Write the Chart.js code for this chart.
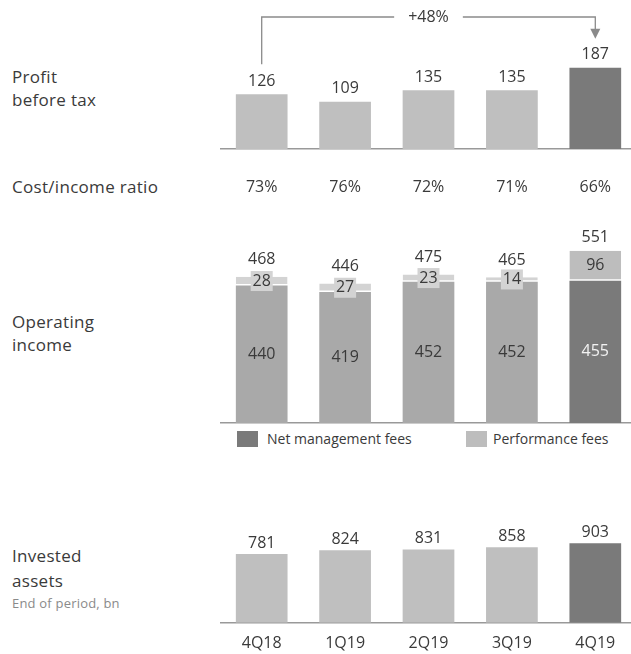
<!DOCTYPE html>
<html>
<head>
<meta charset="utf-8">
<script src="https://cdn.jsdelivr.net/npm/chart.js@4.4.0/dist/chart.umd.min.js"></script>
<style>
  body { margin: 0; width: 631px; height: 654px; overflow: hidden; background: #fff;
         font-family: 'Open Sans', sans-serif; color: #3a3a3a; position: relative; }
  canvas { position: absolute; left: 220px; }
  .side { position: absolute; left: 12px; font-size: 17px; line-height: 23px; letter-spacing: 0.3px; }
  .side small { display: block; font-size: 13px; color: #8a8a8a; line-height: 21px; letter-spacing: 0.2px; }
  .key { position: absolute; top: 431px; width: 21px; height: 16px; }
  .keytext { position: absolute; top: 429px; font-size: 14px; line-height: 20px; color: #3a3a3a; }
</style>
</head>
<body>

<div class="side" style="top:65px">Profit<br>before tax</div>
<div class="side" style="top:175px">Cost/income ratio</div>
<div class="side" style="top:310px">Operating<br>income</div>
<div class="side" style="top:543px;line-height:25px">Invested<br>assets<small>End of period, bn</small></div>

<canvas id="pbtChart" width="417" height="150" style="top:0"></canvas>
<canvas id="incomeChart" width="417" height="275" style="top:150px"></canvas>
<canvas id="assetsChart" width="417" height="166" style="top:500px"></canvas>

<div class="key" style="left:237px;background:#7a7a7a"></div>
<div class="keytext" style="left:267px">Net management fees</div>
<div class="key" style="left:466px;background:#bdbdbd"></div>
<div class="keytext" style="left:493px">Performance fees</div>

<script>
// Dados trimestrais
const quarters = ['4Q18', '1Q19', '2Q19', '3Q19', '4Q19'];
const profitBeforeTax = [126, 109, 135, 135, 187];
const costIncomeRatio = [73, 76, 72, 71, 66];
const netManagementFees = [440, 419, 452, 452, 455];
const performanceFees = [28, 27, 23, 14, 96];
const operatingIncome = [468, 446, 475, 465, 551];
const investedAssets = [781, 824, 831, 858, 903];

const FONT = "'Open Sans', sans-serif";
const TEXT = '#3a3a3a';
const AXIS = '#999999';

// último trimestre em destaque
const shade = (normal, last) => quarters.map((q, i) => i === quarters.length - 1 ? last : normal);

const baseX = (showTicks) => ({
    display: true,
    grid: { display: false, drawTicks: false, tickLength: 0 },
    border: { display: true, color: AXIS, width: 1.5 },
    ticks: { display: showTicks, color: TEXT, padding: 11, font: { family: FONT, size: 16 } }
});

// rótulo de valor acima de cada barra
const topLabels = {
    id: 'topLabels',
    afterDatasetsDraw(chart, args, opts) {
        if (!opts.values) return;
        const ctx = chart.ctx;
        const meta = chart.getDatasetMeta(opts.dataset || 0);
        ctx.save();
        ctx.font = '16px ' + FONT;
        ctx.fillStyle = TEXT;
        ctx.textAlign = 'center';
        ctx.textBaseline = 'middle';
        meta.data.forEach((bar, i) => {
            const off = typeof opts.offset === 'function' ? opts.offset(i) : opts.offset;
            ctx.fillText(opts.values[i], bar.x, bar.y - off);
        });
        ctx.restore();
    }
};

// Gráfico: lucro antes de impostos
new Chart(document.getElementById('pbtChart'), {
    type: 'bar',
    data: {
        labels: quarters,
        datasets: [{
            data: profitBeforeTax,
            backgroundColor: shade('#bfbfbf', '#7a7a7a'),
            barPercentage: 0.62,
            categoryPercentage: 1
        }]
    },
    options: {
        responsive: false,
        animation: false,
        layout: { padding: { top: 0, bottom: 1, left: 0, right: 0 } },
        scales: {
            x: baseX(false),
            y: { display: false, min: 0, max: 343 }
        },
        plugins: {
            legend: { display: false },
            tooltip: { enabled: false },
            topLabels: { values: profitBeforeTax, offset: 13 }
        }
    },
    plugins: [topLabels, {
        id: 'growthArrow',
        afterDatasetsDraw(chart) {
            const ctx = chart.ctx;
            const bars = chart.getDatasetMeta(0).data;
            const first = bars[0], last = bars[bars.length - 1];
            const top = 17;
            const growth = Math.round((profitBeforeTax[4] / profitBeforeTax[0] - 1) * 100);
            const label = '+' + growth + '%';
            const midX = (first.x + last.x) / 2;
            ctx.save();
            ctx.font = '16px ' + FONT;
            const half = ctx.measureText(label).width / 2 + 14;
            ctx.strokeStyle = '#8a8a8a';
            ctx.lineWidth = 1.3;
            ctx.beginPath();
            ctx.moveTo(first.x, first.y - 30);
            ctx.lineTo(first.x, top);
            ctx.lineTo(midX - half, top);
            ctx.moveTo(midX + half, top);
            ctx.lineTo(last.x, top);
            ctx.lineTo(last.x, last.y - 38);
            ctx.stroke();
            ctx.fillStyle = '#8a8a8a';
            ctx.beginPath();
            ctx.moveTo(last.x - 5, last.y - 39);
            ctx.lineTo(last.x + 5, last.y - 39);
            ctx.lineTo(last.x, last.y - 29);
            ctx.closePath();
            ctx.fill();
            ctx.fillStyle = TEXT;
            ctx.textAlign = 'center';
            ctx.textBaseline = 'middle';
            ctx.fillText(label, midX, top);
            ctx.restore();
        }
    }]
});

// Gráfico: receita operacional (empilhado)
new Chart(document.getElementById('incomeChart'), {
    type: 'bar',
    data: {
        labels: quarters,
        datasets: [{
            label: 'Net management fees',
            data: netManagementFees,
            backgroundColor: shade('#a9a9a9', '#7a7a7a'),
            barPercentage: 0.62,
            categoryPercentage: 1
        }, {
            label: 'Performance fees',
            data: performanceFees,
            backgroundColor: shade('#d3d3d3', '#bdbdbd'),
            borderColor: '#ffffff',
            borderWidth: { top: 0, right: 0, bottom: 1.5, left: 0 },
            borderSkipped: false,
            barPercentage: 0.62,
            categoryPercentage: 1
        }]
    },
    options: {
        responsive: false,
        animation: false,
        layout: { padding: { top: 0, bottom: 2, left: 0, right: 0 } },
        scales: {
            x: { ...baseX(false), stacked: true },
            y: { display: false, stacked: true, min: 0, max: 873 }
        },
        plugins: {
            legend: { display: false },
            tooltip: { enabled: false },
            topLabels: {
                values: operatingIncome,
                dataset: 1,
                offset: (i) => performanceFees[i] < 60 ? 17 : 13
            }
        }
    },
    plugins: [topLabels, {
        id: 'segmentLabels',
        afterDatasetsDraw(chart) {
            const ctx = chart.ctx;
            const lower = chart.getDatasetMeta(0).data;
            const upper = chart.getDatasetMeta(1).data;
            ctx.save();
            ctx.font = '16px ' + FONT;
            ctx.textAlign = 'center';
            ctx.textBaseline = 'middle';
            lower.forEach((bar, i) => {
                const last = i === lower.length - 1;
                ctx.fillStyle = last ? '#f2f2f2' : TEXT;
                ctx.fillText(netManagementFees[i], bar.x, (bar.y + bar.base) / 2);
            });
            upper.forEach((bar, i) => {
                const cy = (bar.y + bar.base) / 2;
                if (bar.base - bar.y < 20) {
                    ctx.fillStyle = '#d3d3d3';
                    ctx.fillRect(bar.x - 11, cy - 10, 22, 20);
                }
                ctx.fillStyle = TEXT;
                ctx.fillText(performanceFees[i], bar.x, cy);
            });
            // linha de custo/receita
            const rowY = 37;
            lower.forEach((bar, i) => {
                ctx.fillStyle = TEXT;
                ctx.fillText(costIncomeRatio[i] + '%', bar.x, rowY);
            });
            ctx.restore();
        }
    }]
});

// Gráfico: ativos investidos
new Chart(document.getElementById('assetsChart'), {
    type: 'bar',
    data: {
        labels: quarters,
        datasets: [{
            data: investedAssets,
            backgroundColor: shade('#bfbfbf', '#7a7a7a'),
            barPercentage: 0.62,
            categoryPercentage: 1
        }]
    },
    options: {
        responsive: false,
        animation: false,
        layout: { padding: { top: 0, bottom: 2, left: 0, right: 0 } },
        scales: {
            x: baseX(true),
            y: { display: false, min: 0, max: 1393 }
        },
        plugins: {
            legend: { display: false },
            tooltip: { enabled: false },
            topLabels: { values: investedAssets, offset: 11 }
        }
    },
    plugins: [topLabels]
});
</script>
</body>
</html>
